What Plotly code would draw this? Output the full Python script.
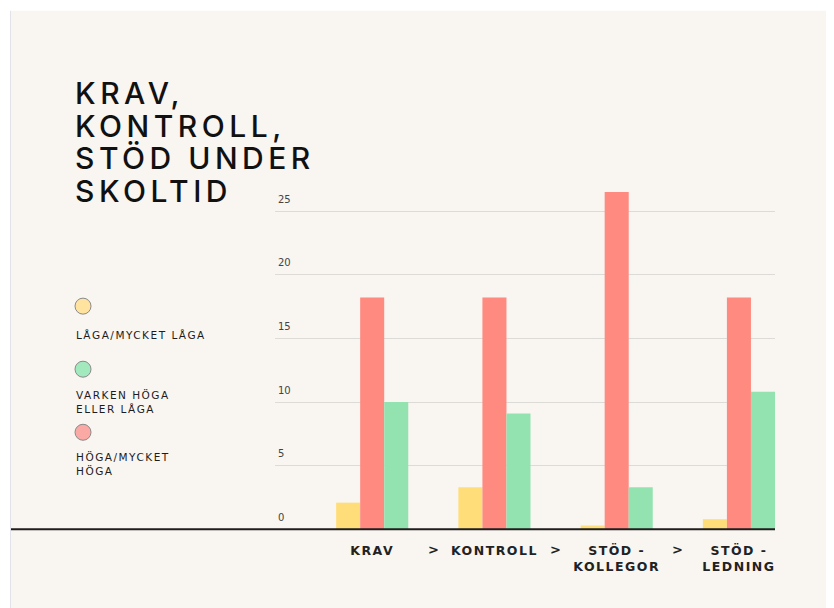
import plotly.graph_objects as go

# ---- data ----
categories = ["KRAV", "KONTROLL", "STÖD -<br>KOLLEGOR", "STÖD -<br>LEDNING"]
low_values = [2.1, 3.3, 0.3, 0.8]          # LÅGA/MYCKET LÅGA
high_values = [18.2, 18.2, 26.5, 18.2]     # HÖGA/MYCKET HÖGA
neither_values = [10.0, 9.1, 3.3, 10.8]    # VARKEN HÖGA ELLER LÅGA
series_names = ["LÅGA/MYCKET LÅGA", "HÖGA/MYCKET HÖGA", "VARKEN HÖGA<br>ELLER LÅGA"]
legend_labels = ["LÅGA/MYCKET LÅGA", "VARKEN HÖGA<br>ELLER LÅGA", "HÖGA/MYCKET<br>HÖGA"]
title_lines = ["KRAV,", "KONTROLL,", "STÖD UNDER", "SKOLTID"]
y_ticks = [0, 5, 10, 15, 20, 25]

# ---- styling ----
W, H = 834, 608
OFF = 8  # page body margin
PXU = 12.72  # pixels per y unit
YMIN = -0.6
L, R, T = 267, 67, 172
B = 87 + YMIN * PXU
BG = "#F9F5F1"
C_LOW, C_HIGH, C_MID = "#FFDE7A", "#FF8A80", "#93E3B1"
FONT = "DejaVu Sans"


def px_x(px):
    return (px - OFF - L) / (W - L - R)


def px_y(py):
    return (H - B - (py - OFF)) / (H - T - B)


def spaced(txt, ls, extra=""):
    return "<br>".join('<span style="letter-spacing:%spx;%s">%s</span>' % (ls, extra, part)
                       for part in txt.split("<br>"))


fig = go.Figure()
for name, vals, col in [
    (series_names[0], low_values, C_LOW),
    (series_names[1], high_values, C_HIGH),
    (series_names[2], neither_values, C_MID),
]:
    fig.add_trace(go.Bar(x=list(range(len(categories))), y=vals, name=name,
                         marker=dict(color=col, line=dict(width=0)),
                         showlegend=False))

shapes = []
# white outer margin (card edge)
shapes.append(dict(type="rect", xref="paper", yref="paper", x0=px_x(0), x1=px_x(W + OFF),
                   y0=px_y(OFF), y1=px_y(11), fillcolor="white", line=dict(width=0), layer="above"))
shapes.append(dict(type="rect", xref="paper", yref="paper", x0=px_x(OFF), x1=px_x(10),
                   y0=px_y(H + OFF), y1=px_y(OFF), fillcolor="white", line=dict(width=0), layer="above"))
shapes.append(dict(type="line", xref="paper", yref="paper", x0=px_x(10.5), x1=px_x(10.5),
                   y0=px_y(H + OFF), y1=px_y(11), line=dict(color="#E2E2EC", width=1), layer="above"))
# baseline
shapes.append(dict(type="line", xref="paper", yref="y", x0=px_x(11), x1=1, y0=0, y1=0,
                   line=dict(color="#1E1E1E", width=2), layer="above"))

annotations = []
# title (line pitch from base size, glyphs enlarged via span)
annotations.append(dict(text=spaced("<br>".join(title_lines), 4.5, "font-size:30px"),
                        xref="paper", yref="paper", x=px_x(73), y=px_y(142),
                        xanchor="left", yanchor="middle", align="left", showarrow=False,
                        font=dict(family="Inter, " + FONT, size=25, color="#111111",
                                  weight=500)))

# legend: circles + labels
legend_colors = ["#FFE39E", "#A3E9BE", "#FBA9A4"]
circle_y = [306, 369, 432]
label_y = [335, 402, 464]
for col, cy, lab, ly in zip(legend_colors, circle_y, legend_labels, label_y):
    shapes.append(dict(type="circle", xref="paper", yref="paper", xsizemode="pixel",
                       ysizemode="pixel", xanchor=px_x(83), yanchor=px_y(cy),
                       x0=-8, x1=8, y0=-8, y1=8, fillcolor=col,
                       line=dict(color="#8A8A8A", width=1)))
    annotations.append(dict(text=spaced(lab, 1.5), xref="paper", yref="paper",
                            x=px_x(74), y=px_y(ly),
                            xanchor="left", yanchor="middle", align="left", showarrow=False,
                            font=dict(family=FONT, size=10.5, color="#1C1C1C")))

# separators between category labels
for sx in [0.5, 1.5, 2.5]:
    annotations.append(dict(text="<b>&gt;</b>", xref="x", yref="paper", x=sx, y=px_y(549),
                            xanchor="center", yanchor="middle", showarrow=False,
                            font=dict(family=FONT, size=13, color="#222222")))

fig.update_layout(
    width=W, height=H,
    margin=dict(l=L, r=R, t=T, b=B, pad=0),
    paper_bgcolor=BG, plot_bgcolor=BG,
    barmode="group", bargap=0.41, bargroupgap=0,
    shapes=shapes, annotations=annotations,
    xaxis=dict(range=[-0.795, 3.295], tickmode="array",
               tickvals=list(range(len(categories))),
               ticktext=[spaced(c, 1.5) for c in categories],
               showgrid=False, zeroline=False, showline=False, ticks="",
               ticklabelstandoff=int(round(12 + YMIN * PXU)),
               tickfont=dict(family=FONT, size=12.5, color="#222222", weight="bold")),
    yaxis=dict(range=[YMIN, (H - T - B) / PXU + YMIN], tickmode="array", tickvals=y_ticks,
               showgrid=True, gridcolor="#DDDBD8", gridwidth=1,
               zeroline=False, showline=False, ticks="",
               ticklabelposition="inside top", ticklabelshift=-5,
               tickfont=dict(family=FONT, size=10, color="#444444")),
)

fig.write_html("out.html")
